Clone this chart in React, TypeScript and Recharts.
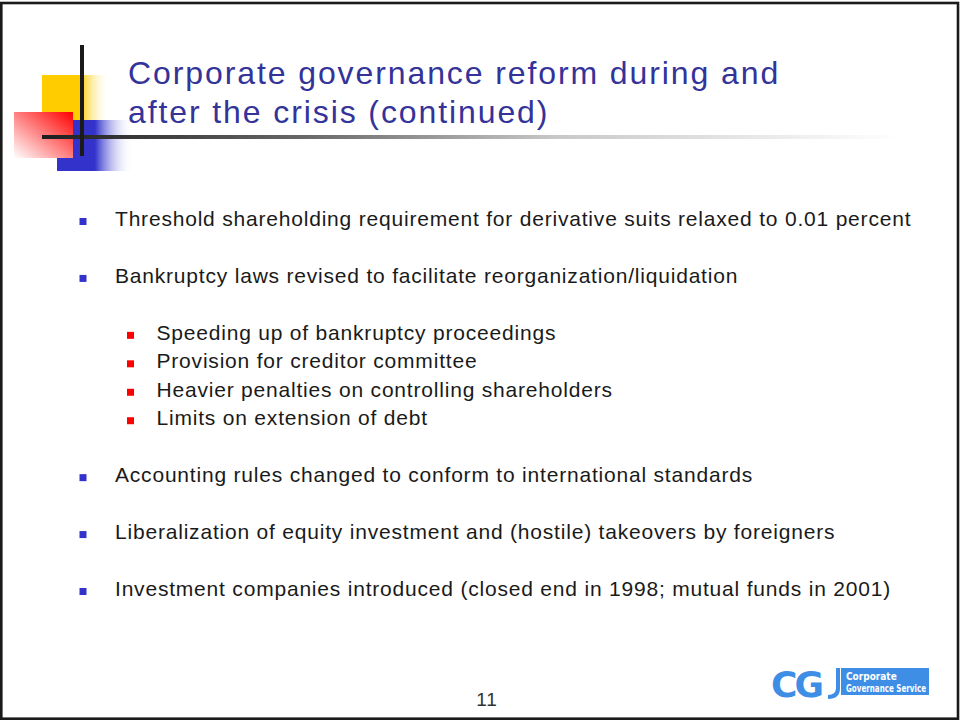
import { ScatterChart, Scatter, XAxis, YAxis, Customized } from 'recharts';

// Slide content: level 0 = main bullet, level 1 = sub bullet; slot = half-line row index
const bulletTexts = [
  'Threshold shareholding requirement for derivative suits relaxed to 0.01 percent',
  'Bankruptcy laws revised to facilitate reorganization/liquidation',
  'Speeding up of bankruptcy proceedings',
  'Provision for creditor committee',
  'Heavier penalties on controlling shareholders',
  'Limits on extension of debt',
  'Accounting rules changed to conform to international standards',
  'Liberalization of equity investment and (hostile) takeovers by foreigners',
  'Investment companies introduced (closed end in 1998; mutual funds in 2001)',
];
const bulletLevels = [0, 0, 1, 1, 1, 1, 0, 0, 0];
const bulletSlots = [0, 2, 4, 5, 6, 7, 9, 11, 13];

const titleLines = ['Corporate governance reform during and', 'after the crisis (continued)'];
const pageNumber = '11';
const logoLines = ['Corporate', 'Governance Service'];

const rows = bulletTexts.map((text, i) => ({
  text,
  level: bulletLevels[i],
  slot: bulletSlots[i],
}));

const BODY_FONT = '"Liberation Sans", Arial, sans-serif';

function BulletShape(props: any) {
  const { cx, cy, payload } = props;
  const sub = payload.level === 1;
  return (
    <g>
      <rect x={cx - 3.5} y={cy - 3.5} width={7} height={7} fill={sub ? '#ff0000' : '#3333cc'} />
      <text
        x={cx + (sub ? 26 : 32)}
        y={cy + 4.5}
        fontFamily={BODY_FONT}
        fontSize={21}
        fill="#1a1a1a"
        letterSpacing={0.8}
      >
        {payload.text}
      </text>
    </g>
  );
}

function Decor() {
  return (
    <g>
      <defs>
        <linearGradient id="gYellow" x1="0" y1="0" x2="1" y2="0">
          <stop offset="0" stopColor="#ffcc00" />
          <stop offset="0.56" stopColor="#ffcc00" />
          <stop offset="1" stopColor="#ffffff" stopOpacity="0" />
        </linearGradient>
        <linearGradient id="gBlue" x1="0" y1="0" x2="1" y2="0">
          <stop offset="0" stopColor="#3333cc" />
          <stop offset="0.5" stopColor="#3333cc" />
          <stop offset="1" stopColor="#ffffff" stopOpacity="0" />
        </linearGradient>
        <linearGradient id="gRed" x1="1" y1="0" x2="0" y2="1">
          <stop offset="0" stopColor="#ff0000" />
          <stop offset="1" stopColor="#ffffff" />
        </linearGradient>
        <linearGradient id="gLine" x1="0" y1="0" x2="1" y2="0">
          <stop offset="0" stopColor="#1e1e1e" />
          <stop offset="0.3" stopColor="#666666" />
          <stop offset="0.6" stopColor="#c8c8c8" />
          <stop offset="1" stopColor="#ffffff" />
        </linearGradient>
      </defs>
      {/* slide frame */}
      <rect x={1.3} y={3} width={956.7} height={715.7} fill="none" stroke="#1a1a1a" strokeWidth={2.6} />
      {/* corner ornament */}
      <rect x={42} y={75} width={68} height={45} fill="url(#gYellow)" />
      <rect x={57} y={120} width={76} height={51} fill="url(#gBlue)" />
      <rect x={14} y={112} width={59} height={46} fill="url(#gRed)" />
      <rect x={42} y={135} width={858} height={4} fill="url(#gLine)" />
      <rect x={80} y={45} width={4} height={111} fill="#1a1a1a" />
      {/* title */}
      <text fontFamily={BODY_FONT} fontSize={32} fill="#333399" letterSpacing={1.9}>
        <tspan x={128} y={83.5}>{titleLines[0]}</tspan>
        <tspan x={128} y={123}>{titleLines[1]}</tspan>
      </text>
      {/* page number */}
      <text x={487} y={705.5} textAnchor="middle" fontFamily={BODY_FONT} fontSize={19} fill="#333333" letterSpacing={1}>
        {pageNumber}
      </text>
      {/* logo */}
      <text x={771} y={697} fontFamily='"DejaVu Sans", sans-serif' fontWeight="bold" fontSize={36} fill="#3d8ee4" letterSpacing={-3}>
        CG
      </text>
      <path d="M838 668 L838 688 Q838 697 828 697" fill="none" stroke="#3d8ee4" strokeWidth={4} />
      <rect x={841} y={668} width={88} height={27} fill="#3d8ee4" />
      <text fontFamily='"DejaVu Sans Condensed", "DejaVu Sans", sans-serif' fontWeight="bold" fontSize={10} fill="#ffffff">
        <tspan x={846} y={680}>{logoLines[0]}</tspan>
        <tspan x={846} y={692} textLength={80} lengthAdjust="spacingAndGlyphs">{logoLines[1]}</tspan>
      </text>
    </g>
  );
}

export default function App() {
  return (
    <div style={{ position: 'absolute', left: 0, top: 0, width: 960, height: 721, background: '#ffffff' }}>
      <ScatterChart
        width={960}
        height={721}
        margin={{ top: 221.5, right: 829.5, bottom: 129.5, left: 83 }}
      >
        <XAxis type="number" dataKey="level" domain={[0, 1]} hide />
        <YAxis type="number" dataKey="slot" domain={[0, 13]} reversed hide />
        <Customized component={<Decor />} />
        <Scatter data={rows} shape={<BulletShape />} isAnimationActive={false} />
      </ScatterChart>
    </div>
  );
}
